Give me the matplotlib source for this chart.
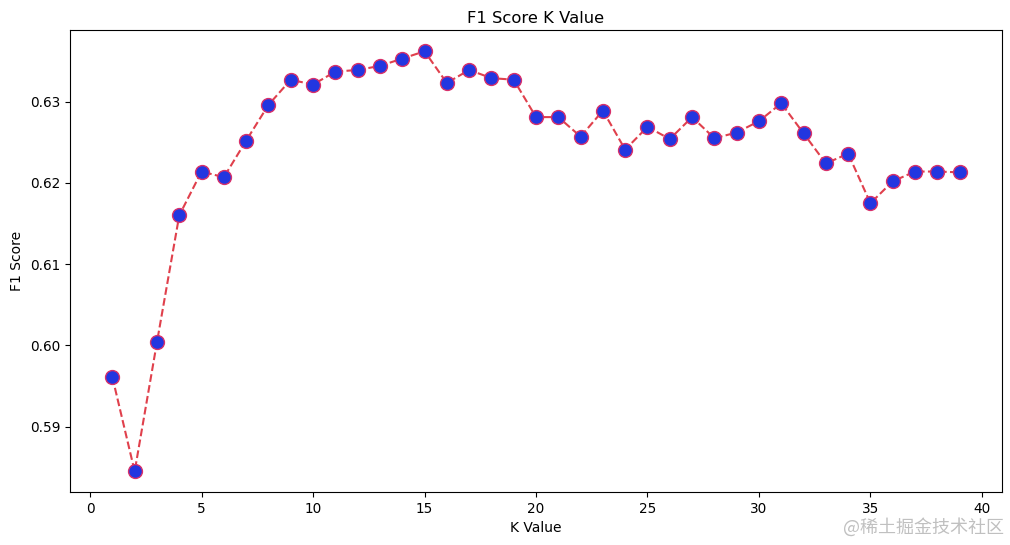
import matplotlib
matplotlib.use("Agg")
import matplotlib.pyplot as plt

k_values = list(range(1, 40))
f1_scores = [0.5961, 0.5845, 0.6004, 0.6160, 0.6214, 0.6207, 0.6252, 0.6296, 0.6327, 0.6321,
             0.6337, 0.6339, 0.6344, 0.6353, 0.6362, 0.6323, 0.6339, 0.6329, 0.6327, 0.6281,
             0.6281, 0.6257, 0.6289, 0.6241, 0.6269, 0.6254, 0.6281, 0.6255, 0.6262, 0.6276,
             0.6298, 0.6261, 0.6224, 0.6236, 0.6175, 0.6202, 0.6214, 0.6214, 0.6213]

plt.rcParams['font.family'] = ['DejaVu Sans', 'Noto Sans CJK SC']
fig = plt.figure(figsize=(10.1, 5.45), dpi=100)
ax = fig.add_axes([70/1010, 1-492/545, 932/1010, 462/545])
ax.plot(k_values, f1_scores, color='#e0404c', linestyle='dashed', marker='o',
        markerfacecolor='#2236e0', markeredgecolor='#d8306a', markersize=10, linewidth=1.5)
ax.set_title('F1 Score K Value', fontsize=11.8, pad=5)
ax.set_xlabel('K Value', fontsize=10)
ax.set_ylabel('F1 Score', fontsize=10)
ax.tick_params(labelsize=9.8)
ax.set_yticks([0.59, 0.60, 0.61, 0.62, 0.63])
ax.set_ylim(0.58196, 0.63882)
fig.text(1004/1010, 1-527/545, '@稀土掘金技术社区', ha='right', va='center', fontsize=13,
         color='#c0c0c0', family=['Noto Sans CJK SC', 'DejaVu Sans'])
fig.savefig('out.png', dpi=100)
